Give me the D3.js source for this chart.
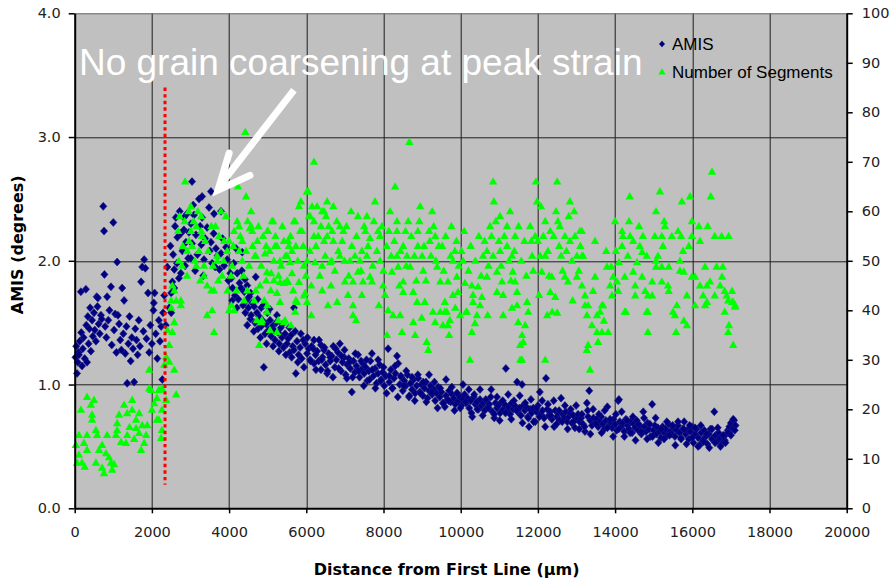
<!DOCTYPE html>
<html>
<head>
<meta charset="utf-8">
<script src="https://cdn.jsdelivr.net/npm/d3@7"></script>
<style>
  html, body { margin: 0; padding: 0; background: #ffffff; }
  svg { display: block; }
</style>
</head>
<body>
<script>
// ---- Axis ticks ----
const xTickValues = [0, 2000, 4000, 6000, 8000, 10000, 12000, 14000, 16000, 18000, 20000];
const amisTickValues = [0, 1, 2, 3, 4];
const segTickValues = [0, 10, 20, 30, 40, 50, 60, 70, 80, 90, 100];

// ---- Series: AMIS (degrees) vs distance (µm) ----
const amisPoints = [
  [20,1.22],[40,1.31],[60,1.09],[80,1.18],[100,1.26],[110,1.24],[130,1.35],[160,1.75],[170,1.42],[190,1.15],
  [210,1.29],[230,1.38],[260,1.21],[290,1.77],[300,1.48],[320,1.18],[340,1.55],[360,1.33],[380,1.45],[400,1.62],
  [420,1.27],[450,1.52],[470,1.39],[500,1.58],[520,1.44],[550,1.35],[570,1.71],[590,1.63],[600,1.70],[620,1.49],
  [650,1.41],[680,1.56],[700,1.53],[740,2.44],[760,2.24],[770,1.89],[790,1.47],[820,1.38],[840,1.71],[870,1.52],
  [900,1.60],[940,1.79],[960,1.32],[1000,2.31],[1020,1.44],[1050,1.57],[1080,1.26],[1100,1.99],[1120,1.56],[1150,1.49],
  [1180,1.36],[1210,1.28],[1230,1.78],[1260,1.41],[1280,1.68],[1310,1.25],[1340,1.47],[1360,1.01],[1390,1.33],[1420,1.55],
  [1450,1.19],[1480,1.38],[1510,1.29],[1540,1.02],[1570,1.45],[1600,1.36],[1630,1.24],[1660,1.52],[1690,1.31],[1720,1.83],
  [1750,1.95],[1780,1.43],[1800,2.01],[1830,1.94],[1860,1.37],[1900,1.74],[1930,1.26],[1960,1.48],[2000,1.33],[2040,1.60],
  [2050,1.66],[2070,1.74],[2100,1.41],[2140,1.21],[2180,1.52],[2210,1.35],[2240,1.47],[2270,1.04],[2290,1.58],
  [2320,1.72],[2360,1.48],[2400,1.95],[2450,1.62],[2480,2.12],[2500,1.58],[2500,1.74],[2530,1.83],[2550,2.05],[2580,1.78],
  [2580,1.93],[2600,2.28],[2620,2.35],[2650,1.98],[2660,2.19],[2700,1.86],[2720,2.40],[2750,1.90],[2750,2.22],[2790,2.08],
  [2830,2.25],[2830,2.35],[2860,1.96],[2880,2.15],[2910,2.38],[2940,2.02],[2960,2.23],[3010,2.30],[3010,2.02],[3040,2.64],
  [3040,2.14],[3070,2.45],[3090,2.37],[3120,1.92],[3140,2.21],[3180,2.05],[3220,2.50],[3250,2.28],[3280,2.13],[3300,2.52],
  [3300,2.35],[3330,1.88],[3350,2.01],[3380,2.18],[3430,2.27],[3480,2.43],[3500,2.08],[3530,2.56],[3530,2.15],[3560,1.98],
  [3600,2.22],[3610,2.38],[3640,1.95],[3660,2.10],[3700,2.04],[3750,1.93],[3790,2.40],[3790,2.06],[3830,2.18],[3870,1.96],
  [3920,2.11],[3950,2.01],[3980,1.84],
  [4030,1.90],[4060,1.86],[4090,1.78],[4120,1.98],[4150,1.72],[4180,2.10],[4210,1.90],[4240,1.69],[4270,1.82],[4310,1.78],
  [4340,2.07],[4360,1.64],[4390,1.75],[4420,1.58],[4450,1.68],[4470,1.80],[4470,1.48],[4500,1.62],[4520,1.71],[4550,1.53],
  [4570,1.56],[4600,1.66],[4650,1.63],[4670,1.50],[4690,1.87],[4720,1.58],[4750,1.45],[4780,1.55],[4830,1.62],[4830,1.47],
  [4860,1.52],[4900,1.14],[4930,1.41],[4960,1.49],[4990,1.58],[5020,1.44],[5060,1.52],[5090,1.39],[5120,1.47],[5160,1.44],
  [5190,1.36],[5240,1.56],[5270,1.42],[5300,1.33],[5340,1.46],[5370,1.38],[5410,1.30],[5450,1.41],[5500,1.33],[5530,1.37],
  [5570,1.26],[5610,1.40],[5650,1.31],[5680,1.62],[5680,1.28],[5730,1.09],[5760,1.35],[5800,1.24],[5840,1.30],[5880,1.21],
  [5940,1.14],[5970,1.33],[6020,1.25],
  [4080,1.68],[4200,1.62],[4330,1.92],[4410,1.85],[4560,1.74],[4640,1.43],[4740,1.69],[4810,1.38],[4890,1.64],[4970,1.33],
  [5050,1.61],[5140,1.31],[5220,1.50],[5290,1.27],[5390,1.49],[5470,1.24],[5560,1.46],[5620,1.22],[5710,1.43],[5780,1.18],
  [5860,1.41],[5920,1.36],
  [6060,1.29],[6100,1.20],[6140,1.31],[6200,1.17],[6200,1.36],[6240,1.24],[6280,1.27],[6320,1.19],[6380,1.12],[6380,1.32],
  [6420,1.22],[6460,1.28],[6500,1.16],[6540,1.09],[6580,1.25],[6620,1.19],[6660,1.23],[6700,1.31],[6740,1.14],[6780,1.20],
  [6820,1.26],[6870,1.33],[6900,1.11],[6940,1.18],[6980,1.22],[7020,1.08],[7060,1.16],[7100,1.21],[7140,1.13],[7180,0.94],
  [7220,1.19],[7260,1.10],[7300,1.15],[7340,1.24],[7380,1.06],[7420,1.12],[7460,1.17],[7500,1.09],[7540,1.14],[7580,1.03],
  [7620,1.11],[7660,1.19],[7700,1.25],[7740,1.07],[7780,1.13],[7820,1.01],[7860,1.09],[7900,1.16],[7940,1.04],[7980,1.10],
  [8020,0.99],[8060,1.07],[8120,1.29],[8150,1.02],[8190,1.12],[8230,0.97],[8270,1.05],[8310,1.09],[8350,1.23],[8380,1.17],
  [8420,1.00],[8460,1.06],[8500,0.95],[8540,1.03],[8580,0.99],[8620,1.08],[8660,0.90],[8700,1.01],[8740,0.96],[8780,1.04],
  [8820,0.93],[8860,0.99],[8900,1.05],[8940,0.94],[8980,1.00],[9020,0.91],[9060,0.97],[9100,1.02],[9140,0.89],[9180,0.95],
  [9220,0.99],[9260,0.92],[9300,0.96],[9340,0.87],[9380,0.93],[9420,0.98],[9460,0.90],[9500,0.94],[9540,0.85],[9590,0.82],
  [9620,0.91],[9660,0.88],[9700,0.95],[9740,0.86],[9780,0.92],[9820,0.89],[9860,0.84],[9900,0.93],[9940,0.87],[9980,0.90],
  [10020,0.83],[10060,0.88],[10100,0.92],[10140,0.85],[10180,0.89],[10220,0.81],[10260,0.87],[10300,0.74],[10340,0.90],[10380,0.84],
  [10420,0.86],[10460,0.80],[10500,0.88],[10540,0.83],[10580,0.85],[10620,0.79],[10660,0.87],[10700,0.82],[10740,0.84],[10780,0.90],
  [10820,0.78],[10870,0.73],[10900,0.85],[10940,0.81],[10980,0.83],[11020,0.77],[11060,0.86],[11100,0.80],[11140,0.84],[11170,1.13],
  [11200,0.79],[11240,0.82],[11280,0.76],[11320,0.85],[11360,0.80],[11400,0.83],[11460,1.02],[11480,0.78],[11520,0.81],[11560,0.75],
  [11590,1.00],[11620,0.83],[11660,0.79],[11700,0.82],[11740,0.74],[11770,0.66],[11800,0.80],[11840,0.77],[11880,0.81],[11930,0.70],
  [11960,0.78],[12000,0.83],[12050,0.94],[12080,0.76],[12120,0.79],[12160,0.73],[12210,1.05],[12240,0.80],[12280,0.75],[12320,0.78],
  [12360,0.72],[12420,0.66],[12450,0.79],[12490,0.74],[12530,0.77],[12570,0.71],[12600,0.89],[12640,0.76],[12680,0.73],[12720,0.78],
  [12760,0.70],[12800,0.74],[12840,0.77],[12880,0.69],[12920,0.75],[12960,0.65],[13000,0.72],[13040,0.76],[13080,0.70],[13120,0.73],
  [13170,0.68],[13220,0.62],[13270,0.85],[13300,0.74],[13330,0.95],[13360,0.71],[13400,0.67],[13440,0.73],[13480,0.69],[13520,0.72],
  [13560,0.66],[13600,0.70],[13640,0.74],[13680,0.68],[13720,0.64],[13760,0.71],[13800,0.82],[13840,0.67],[13880,0.70],[13920,0.65],
  [13960,0.72],[14000,0.68],[14040,0.63],[14080,0.87],[14100,0.88],[14120,0.70],[14160,0.66],[14200,0.69],[14240,0.62],[14280,0.72],
  [14320,0.67],[14360,0.64],[14400,0.70],[14440,0.61],[14480,0.68],[14520,0.65],[14560,0.71],[14600,0.63],[14640,0.67],[14680,0.60],
  [14730,0.78],[14760,0.66],[14800,0.62],[14840,0.69],[14880,0.64],[14920,0.58],[14960,0.84],[14990,0.63],[15030,0.67],[15070,0.60],
  [15110,0.65],[15150,0.62],[15190,0.57],[15230,0.66],[15270,0.61],[15310,0.64],[15350,0.59],[15390,0.68],[15430,0.62],[15470,0.60],
  [15510,0.65],[15550,0.58],[15590,0.63],[15630,0.67],[15670,0.61],[15710,0.57],[15750,0.64],[15790,0.70],[15830,0.60],[15870,0.63],
  [15910,0.56],[15950,0.62],[15990,0.66],[16030,0.53],[16070,0.60],[16110,0.64],[16150,0.57],[16190,0.51],[16230,0.61],[16270,0.55],
  [16310,0.63],[16350,0.58],[16390,0.52],[16430,0.60],[16470,0.64],[16510,0.56],[16570,0.78],[16600,0.59],[16640,0.54],[16680,0.61],
  [16720,0.57],[16760,0.52],[16800,0.58],[16840,0.55],[16880,0.60],[16920,0.63],[16960,0.66],[17000,0.69],[17040,0.64],[17080,0.71],
  [17120,0.67],
  [6030,1.38],[6110,1.19],[6180,1.29],[6250,1.12],[6330,1.36],[6400,1.20],[6470,1.30],[6550,1.11],[6620,1.22],[6690,1.06],
  [6760,1.29],[6840,1.13],[6910,1.23],[6990,1.28],[7050,1.05],[7120,1.18],[7200,1.06],[7270,1.25],[7350,1.11],[7420,1.19],
  [7490,0.99],[7560,1.20],[7640,1.04],[7710,1.12],[7790,0.97],[7860,1.20],[7930,1.03],[8000,1.14],[8080,0.93],[8150,1.07],
  [8230,0.97],[8300,1.15],[8370,0.90],[8450,1.07],[8520,0.99],[8590,1.11],[8670,0.91],[8740,1.06],[8810,0.87],[8890,1.08],
  [8960,0.93],[9030,1.02],[9110,0.86],[9180,1.08],[9250,0.94],[9320,1.02],[9400,0.81],[9470,0.97],[9550,0.85],[9620,1.04],
  [9690,0.87],[9770,0.98],[9840,0.79],[9910,0.93],[9990,0.81],[10060,1.00],[10130,0.86],[10210,0.96],[10280,0.77],[10350,0.92],
  [10430,0.80],[10500,0.96],[10570,0.75],[10650,0.88],[10720,0.81],[10790,0.96],[10870,0.76],[10940,0.90],[11010,0.71],[11090,0.87],
  [11160,0.77],[11230,0.92],[11310,0.72],[11380,0.87],[11450,0.79],[11530,0.91],[11600,0.69],[11670,0.85],[11750,0.73],[11820,0.88],
  [11890,0.70],[11970,0.81],[12040,0.74],[12110,0.87],[12190,0.66],[12260,0.84],[12330,0.75],[12410,0.87],[12480,0.68],[12550,0.79],
  [12630,0.70],[12700,0.83],[12770,0.64],[12850,0.80],[12920,0.70],[12990,0.83],[13070,0.64],[13140,0.76],[13210,0.66],[13290,0.79],
  [13360,0.60],[13430,0.80],[13510,0.68],[13580,0.76],[13650,0.61],[13730,0.79],[13800,0.65],[13870,0.72],[13950,0.58],[14020,0.76],
  [14090,0.64],[14170,0.78],[14240,0.58],[14310,0.71],[14390,0.61],[14460,0.74],[14530,0.55],[14610,0.68],[14680,0.62],[14750,0.73],
  [14830,0.56],[14900,0.68],[14970,0.58],[15050,0.73],[15120,0.53],[15190,0.64],[15270,0.56],[15340,0.70],[15410,0.59],[15490,0.67],
  [15560,0.51],[15630,0.70],[15710,0.56],[15780,0.64],[15850,0.52],[15930,0.67],[16000,0.57],[16070,0.65],[16150,0.50],[16220,0.67],
  [16290,0.54],[16370,0.60],[16440,0.49],[16510,0.64],[16590,0.53],[16660,0.65],[16730,0.50],[16800,0.59],[16860,0.53],[16930,0.61],
  [17000,0.59],[17060,0.72],[17100,0.63]
];

// ---- Series: number of segments vs distance (µm) ----
const segmentPoints = [
  [30,12.8],[60,9.2],[110,14.8],[110,10.8],[160,19.9],[190,9.2],[240,13.2],[260,8.4],[320,22.5],[320,14.8],
  [320,11.8],[420,20.9],[450,18.9],[450,17.9],[500,21.9],[550,15.8],[550,9.2],[580,14.8],[630,11.8],[710,12.8],
  [710,8.2],[760,7.1],[810,11.1],[840,14.8],[890,10.3],[940,9.2],[970,7.8],[1020,8.9],[1070,14.8],[1100,17.2],
  [1100,15.8],[1150,18.9],[1200,13.4],[1280,20.9],[1330,13.2],[1360,14.8],[1360,19.2],[1420,16.4],[1490,21.9],[1490,19.9],
  [1540,14.0],[1590,17.9],[1590,16.2],[1670,19.2],[1670,15.2],[1720,11.8],[1750,16.8],[1800,13.2],[1850,14.8],[1880,16.8],
  [1930,24.2],[1930,28],[1980,23.9],[2000,19.9],[2060,21.2],[2130,22.3],[2130,17.9],[2180,23.9],[2180,17.9],[2240,14.2],
  [2260,24.2],[2260,19.9],[2260,15.8],[2320,29],[2370,21.9],[2370,30.6],[2400,36],[2450,29.6],[2450,33],[2500,42],
  [2500,40.5],[2530,35.6],[2530,45],[2580,37.6],[2580,28],[2580,44],[2630,23],[2630,42],[2700,50],[2750,42],
  [2750,41],[2780,49],
  [2680,56],[2720,59],[2800,53],[2850,58],[2950,60],[3080,58],[3110,50],[3190,60],[3250,46],[3380,54],
  [3460,52],[3580,49],[3650,57],[3720,46],[3860,50],[3960,44],
  [2860,66],[2910,52],[2910,47],[2960,54],[3010,61],[3010,56],[3040,53],[3150,57],[3150,49],[3220,52],
  [3280,59],[3280,56],[3300,55],[3350,49],[3350,47],[3430,45],[3430,39],[3540,57],[3540,44],[3560,40],
  [3610,44],[3610,35.6],[3690,51],[3690,50],[3740,55],[3790,60],[3820,47],[3870,54],[3920,59],[3950,52],
  [4000,54],[4000,40],[4060,41],[4080,49],[4130,56],[4130,40],[4210,58],[4230,65],[4260,57],[4260,52],
  [4340,54],[4340,50],[4390,42],[4420,76],[4440,63],[4440,52],[4470,44],[4540,56.6],[4570,60],[4570,57],
  [4600,56],[4650,42],[4670,51],[4690,51],[4690,44],[4730,54],[4780,33],[4830,49],[4830,37.6],[4850,38],
  [4930,51.5],[4960,53],[4960,46],[4980,47.7],[4980,39.7],[4990,56],[4990,41],[5010,56],[5090,47.5],[5110,58],
  [5140,58],[5160,50],[5160,46],[5190,53],[5240,53],[5240,43.5],[5240,35.6],[5270,38],[5320,50],[5320,45.7],
  [5320,41.7],[5350,49],[5420,54],[5420,45.5],[5420,37.6],[5450,38],[5500,51],[5500,46],[5530,54],[5530,45.7],
  [5550,53],[5580,49.7],[5630,52],[5630,47.5],[5680,58],[5710,58],[5710,39.7],[5730,53],[5730,42],[5760,41.7],
  [5810,61],[5810,45.7],[5840,56],[5860,62],[5890,56],[5940,49],[5940,43],[5970,43.5],[6020,64],[6020,50],
  [6020,41.7],[6050,64],[6070,59],[6100,59],[6150,61],[6200,70],[6200,58],[6200,55],[6230,49.7],[6310,55],
  [6380,57],[6410,60],[6410,49],[6410,44],[6460,54],[6460,60],[6510,59],[6540,62],[6540,55],[6620,49.7],
  [6660,50],[6670,56],
  [4050,47],[4110,53],[4190,44],[4290,55],[4370,47],[4480,58],[4520,49],[4610,53],[4760,57],[4800,45],
  [4880,55],[4910,42],[5050,52],[5080,44],[5200,55],[5280,47],[5380,57],[5460,51],[5590,55],[5660,44],
  [5780,50],[5920,53],[5990,47],[6090,52],[6130,45],[6250,53],[6280,61],[6350,47],[6490,51],[6580,57],
  [6640,45],[4720,38],[5060,36],[5600,37],[6130,39],[6560,41],
  [6700,61],[6700,54],[6800,41.7],[6870,57],[6870,51],[6930,54],[6960,56],[7000,45.8],[7080,43.1],[7130,50],
  [7180,53],[7210,45.8],[7210,41],[7210,39],[7340,59],[7340,47.8],[7390,50],[7440,52],[7440,43.1],[7470,45.8],
  [7530,56],[7570,59],[7570,51],[7650,54.6],[7650,46.8],[7700,45.8],[7780,62],[7860,56],[7910,55],[7910,50],
  [7990,45],[8040,43.1],[8090,35],[8120,40],[8170,60],[8220,47.8],[8250,39],[8300,65],[8350,58],[8350,56],
  [8350,51],[8380,48.8],[8430,39],[8480,35.6],[8510,53],[8510,45.8],[8510,43.7],[8610,51],[8640,58],[8670,74],
  [8690,48.8],[8770,43.7],[8770,37.6],[8820,35],[8870,41.7],[8890,56],[8890,53],[8950,61],[9000,51],[9030,48],
  [9070,41.7],[9120,33.6],[9160,32],[9180,56],[9200,54],[9260,60],[9280,39.7],[9340,55],[9340,37.6],[9390,48.8],
  [9470,45.8],[9470,39.7],[9520,53],[9540,37],[9590,41.7],[9590,39.7],[9640,39.7],[9670,45.8],[9670,37],[9700,35],
  [9720,38],[9800,50],[9800,43.1],[9850,52],[9900,46.8],[9930,43.7],[9980,39],[10060,50],[10110,45.5],[10140,39.7],
  [10160,39.7],[10240,30],[10290,45],[10290,35.6],[10320,43.1],[10320,41.7],[10370,37.4],[10420,39],[10450,44.8],[10500,41],
  [10550,42.7],[10580,51],[10680,52],[10680,46.8],[10760,57],[10840,66],[10840,51],[10860,62],[10910,58],[10940,47.8],
  [10940,43.7],[11020,59],[11020,52],[11070,45.8],[11100,43.1],[11100,39],[11200,57],[11200,53],[11280,60],[11330,51],
  [11350,47.8],[11410,55],[11410,45.8],[11460,43.7],[11460,41],[11490,37.6],[11540,33],[11540,30],[11590,35],[11590,30],
  [11620,33.6],[11670,37],[11720,41.7],[11750,39.7],[11800,57],[11850,51],[11930,55],[11950,66],[11980,62],[12000,54],
  [12030,43.1],[12080,61],[12100,47.8],[12190,58],[12190,51],[12190,30],[12240,39],[12320,56],[12320,43.7],[12360,46.8],
  [12370,39.7],[12450,42.7],[12470,60],[12500,66],[12520,58],[12550,53],[12570,57],[12700,55],[12700,46.8],[12780,45.8],
  [12800,59],[12830,62],[12830,54],[12940,60],[13010,51],[13010,46.8],[13090,56],[13140,56],[13140,51],[13140,45],
  [13170,51],
  [6740,48],[6790,58],[6830,52],[6990,50],[7040,57],[7100,47],[7160,60],[7260,51],[7300,55],[7420,48],
  [7500,57],[7600,53],[7720,49],[7750,58],[7830,52],[7960,57],[8000,48],[8080,53],[8140,56],[8200,51],
  [8280,54],[8410,45],[8440,52],[8570,56],[8590,49],[8720,55],[8800,51],[8850,46],[8930,58],[9050,53],
  [9100,46],[9230,51],[9300,57],[9360,50],[9430,53],[9560,48],[9610,55],[9740,51],[9760,57],[9890,54],
  [9950,49],[10020,52],[10090,56],[10200,48],[10260,53],[10380,50],[10470,55],[10530,47],[10620,54],[10720,49],
  [10800,55],[10990,54],[11050,49],[11130,55],[11250,50],[11300,46],[11390,52],[11500,57],[11570,50],[11650,54],
  [11700,47],[11830,54],[11880,48],[12060,51],[12140,55],[12260,52],[12290,47],[12410,55],[12600,51],[12640,48],
  [12740,52],[12880,50],[12960,55],[13060,48],[13100,53],
  [7290,38],[7880,41],[8990,38.5],[9860,40.5],[10700,39],[11330,40.5],[12500,39.5],[12900,42],
  [13220,43],[13220,41],[13270,39],[13270,32],[13300,41],[13300,33],[13350,28],[13400,37],[13430,43.9],[13480,54],
  [13480,46.8],[13530,39],[13530,35.6],[13560,33.6],[13610,39.7],[13660,41],[13660,35.6],[13690,41],[13710,37.9],[13770,52],
  [13790,48.8],[13820,35.6],[13870,45],[13900,48.8],[13920,43],[13950,46.8],[14000,58],[14020,52],[14050,45.8],[14080,43.9],
  [14100,49.7],[14180,56],[14180,53],[14200,55],[14250,46.8],[14250,39.7],[14280,39.7],[14330,51],[14360,58],[14380,63],
  [14390,55],[14470,54],[14470,47.8],[14520,45],[14520,43],[14570,49.7],[14620,57],[14640,53],[14700,51.8],[14700,46.8],
  [14720,55],[14780,43.9],[14820,51],[14820,39.7],[14850,43],[14850,39.7],[14850,35.6],[14960,45.8],[14960,43],[15030,55],
  [15060,60],[15060,50],[15060,48.8],[15110,51],[15160,64],[15210,55],[15210,48.8],[15210,45.8],[15240,53],[15270,58],
  [15290,57],[15370,45],[15390,48.8],[15390,43.9],[15470,55],[15500,39.7],[15550,39],[15580,35.6],[15600,41],[15630,56],
  [15680,50],[15680,48],[15710,55],[15730,62],[15760,52],[15780,47.8],[15780,37.9],[15860,43],[15860,37],[15910,53],
  [15940,63],[15990,58],[15990,55],[15990,46.8],[16070,46.8],[16070,41],[16170,57],[16200,54],[16200,45],[16280,43],
  [16330,48.8],[16330,41],[16380,45],[16380,41.7],[16400,57],[16460,45.8],[16480,63],[16510,68],[16580,55],[16580,43],
  [16630,48.8],[16720,45],[16760,55],[16770,46.8],[16790,48.8],[16840,43.9],[16840,39.7],[16890,43],[16930,42],[16930,35.6],
  [16940,55],[16950,37],[17030,43.9],[17030,41.7],[17060,41.7],[17060,33],[17110,40.7],[17110,41]
];

// ---- Annotation (data units) ----
const peakStrainX = 2340;              // dotted marker position, µm
const peakStrainRange = [0.19, 3.40];  // AMIS extent of the dotted marker
const noteText = "No grain coarsening at peak strain";
const notePos = [110, 3.50];
const arrowShaft = [[5680, 3.38], [3740, 2.60]];
const arrowHead = [[4000, 2.87], [3712, 2.572], [4540, 2.69]];

// ---- Layout ----
const W = 893, H = 583;
const margin = { top: 13.3, right: 46.3, bottom: 74.7, left: 74.7 };
const iw = W - margin.left - margin.right;
const ih = H - margin.top - margin.bottom;

const x = d3.scaleLinear().domain([0, 20000]).range([0, iw]);
const yL = d3.scaleLinear().domain([0, 4]).range([ih, 0]);
const yR = d3.scaleLinear().domain([0, 100]).range([ih, 0]);

const svg = d3.select("body").append("svg")
  .attr("width", W).attr("height", H)
  .attr("viewBox", `0 0 ${W} ${H}`);

const g = svg.append("g").attr("transform", `translate(${margin.left},${margin.top})`);

// plot background
g.append("rect").attr("width", iw).attr("height", ih).attr("fill", "#c0c0c0");

// gridlines
const gridColor = "#1e1e1e";
g.append("g").selectAll("line.v")
  .data(xTickValues.filter(d => d > 0 && d < 20000))
  .join("line")
  .attr("x1", d => Math.round(x(d)) + 0.5).attr("x2", d => Math.round(x(d)) + 0.5)
  .attr("y1", 0).attr("y2", ih)
  .attr("stroke", gridColor).attr("stroke-width", 1);
g.append("g").selectAll("line.h")
  .data(amisTickValues.filter(d => d > 0))
  .join("line")
  .attr("x1", 0).attr("x2", iw)
  .attr("y1", d => Math.round(yL(d)) + 0.5).attr("y2", d => Math.round(yL(d)) + 0.5)
  .attr("stroke", d => d === 4 ? "#6a6a6a" : gridColor).attr("stroke-width", 1);

// markers
const diamond = "M0,-4L3.6,0L0,4L-3.6,0Z";
const triangle = "M0,-4.4L4.2,3L-4.2,3Z";

g.append("g").selectAll("path")
  .data(amisPoints)
  .join("path")
  .attr("d", diamond)
  .attr("transform", d => `translate(${x(d[0])},${yL(d[1])})`)
  .attr("fill", "#000080")
  .attr("stroke", "#1c1c8a").attr("stroke-width", 0.6);

g.append("g").selectAll("path")
  .data(segmentPoints)
  .join("path")
  .attr("d", triangle)
  .attr("transform", d => `translate(${x(d[0])},${yR(d[1])})`)
  .attr("fill", "#00ff00");

// dotted peak-strain marker
g.append("line")
  .attr("x1", x(peakStrainX)).attr("x2", x(peakStrainX))
  .attr("y1", yL(peakStrainRange[1])).attr("y2", yL(peakStrainRange[0]))
  .attr("stroke", "#ff0000").attr("stroke-width", 3)
  .attr("stroke-dasharray", "3.4,3.2");

// axes
const tickFont = "DejaVu Sans, Verdana, sans-serif";
function styleAxis(sel) {
  sel.select(".domain").attr("stroke", "#000").attr("stroke-width", 2);
  sel.selectAll(".tick line").attr("stroke", "#000").attr("stroke-width", 1.5);
  sel.selectAll(".tick text")
    .attr("fill", "#222")
    .style("font-family", tickFont)
    .style("font-size", "14.5px");
}

g.append("g")
  .call(d3.axisLeft(yL).tickValues(amisTickValues).tickFormat(d3.format(".1f"))
    .tickSize(6).tickSizeOuter(0).tickPadding(8))
  .call(styleAxis);

g.append("g").attr("transform", `translate(${iw},0)`)
  .call(d3.axisRight(yR).tickValues(segTickValues).tickFormat(d3.format("d"))
    .tickSize(6).tickSizeOuter(0).tickPadding(9))
  .call(styleAxis);

g.append("g").attr("transform", `translate(0,${ih})`)
  .call(d3.axisBottom(x).tickValues(xTickValues).tickFormat(d3.format("d"))
    .tickSize(5).tickSizeOuter(0).tickPadding(13))
  .call(styleAxis);

// axis titles
const titleFont = "DejaVu Sans, Verdana, sans-serif";
svg.append("text")
  .attr("transform", `translate(23,${margin.top + ih / 2 - 16}) rotate(-90)`)
  .attr("text-anchor", "middle")
  .style("font-family", titleFont).style("font-weight", "bold").style("font-size", "16px")
  .attr("fill", "#000")
  .text("AMIS (degrees)");

svg.append("text")
  .attr("x", margin.left + iw / 2 - 14).attr("y", 575)
  .attr("text-anchor", "middle")
  .style("font-family", titleFont).style("font-weight", "bold").style("font-size", "16px")
  .attr("fill", "#000")
  .text("Distance from First Line (\u03bcm)");

// legend
const legend = svg.append("g").attr("transform", "translate(662,0)");
legend.append("path").attr("d", "M0,-3.3L3,0L0,3.3L-3,0Z")
  .attr("transform", "translate(0,44)").attr("fill", "#000080");
legend.append("text").attr("x", 10).attr("y", 50)
  .style("font-family", "Liberation Sans, Arial, sans-serif").style("font-size", "17px")
  .attr("fill", "#000").text("AMIS");
legend.append("path").attr("d", "M0,-3.8L3.6,2.6L-3.6,2.6Z")
  .attr("transform", "translate(0,72)").attr("fill", "#00ff00");
legend.append("text").attr("x", 10).attr("y", 78)
  .style("font-family", "Liberation Sans, Arial, sans-serif").style("font-size", "17px")
  .attr("fill", "#000").text("Number of Segments");

// annotation text and arrow
g.append("text")
  .attr("x", x(notePos[0])).attr("y", yL(notePos[1]))
  .style("font-family", "Liberation Sans, Arial, sans-serif").style("font-size", "37px")
  .attr("fill", "#ffffff")
  .text(noteText);

g.append("line")
  .attr("x1", x(arrowShaft[0][0])).attr("y1", yL(arrowShaft[0][1]))
  .attr("x2", x(arrowShaft[1][0])).attr("y2", yL(arrowShaft[1][1]))
  .attr("stroke", "#ffffff").attr("stroke-width", 7).attr("stroke-linecap", "butt");

g.append("path")
  .attr("d", d3.line().x(d => x(d[0])).y(d => yL(d[1]))(arrowHead))
  .attr("fill", "none").attr("stroke", "#ffffff").attr("stroke-width", 7)
  .attr("stroke-linecap", "round").attr("stroke-linejoin", "miter");
</script>
</body>
</html>
